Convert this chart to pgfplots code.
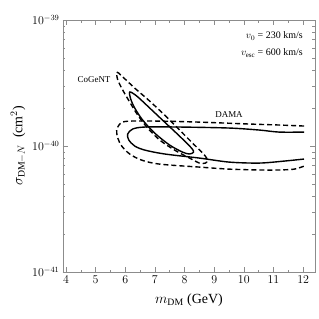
\documentclass[border=0pt]{standalone}
\usepackage{pgfplots}
\pgfplotsset{compat=1.18}
\usepackage{fontspec}
\setmainfont{Liberation Serif}
\begin{document}
\begin{tikzpicture}
\begin{axis}[
  scale only axis, width=252bp, height=252bp,
  xmin=3.9, xmax=12.4, ymin=1e-41, ymax=1e-39, ymode=log,
  xtick={4,5,6,7,8,9,10,11,12}, minor x tick num=1,
  ytick={1e-41,1e-40,1e-39},
  tick align=inside,
  axis line style={black!45, line width=0.6pt},
  every tick/.style={black!45, line width=0.5pt},
  major tick length=5bp, minor tick length=2.5bp,
  xticklabel style={font=\fontsize{12}{14}\selectfont},
  yticklabel style={font=\fontsize{12}{14}\selectfont},
  xlabel={$m_{\mathrm{DM}}$\ (GeV)},
  ylabel={$\sigma_{\mathrm{DM-}N}$\ \ (cm$^{2}$)},
  label style={font=\fontsize{14}{16}\selectfont},
  xlabel style={yshift=-4bp},
  clip=true,
]
% CoGeNT outer (dashed)
\addplot[black, line width=1.4pt, dash pattern=on 5bp off 3bp, smooth, tension=0.5] coordinates {
(7.328,1.762e-40) (7.832,1.340e-40) (8.336,1.019e-40) (8.672,0.849e-40) (8.773,0.774e-40)
(8.706,0.733e-40) (8.504,0.733e-40) (8.168,0.803e-40) (7.664,0.929e-40) (7.160,1.117e-40)
(6.756,1.390e-40) (6.420,1.762e-40) (6.151,2.234e-40) (5.916,2.780e-40) (5.748,3.342e-40)
(5.714,3.864e-40) (5.882,3.597e-40) (6.319,2.884e-40) (6.824,2.275e-40) (7.328,1.762e-40)
};
% CoGeNT inner (solid)
\addplot[black, line width=1.4pt, smooth, tension=0.5] coordinates {
(7.328,1.549e-40) (7.832,1.199e-40) (8.235,0.964e-40) (8.303,0.895e-40) (8.168,0.865e-40)
(7.933,0.895e-40) (7.496,1.019e-40) (6.992,1.268e-40) (6.588,1.607e-40) (6.319,2.004e-40)
(6.185,2.360e-40) (6.151,2.685e-40) (6.387,2.495e-40) (6.824,2.004e-40) (7.328,1.549e-40)
};
% DAMA outer (dashed)
\addplot[black, line width=1.4pt, dash pattern=on 5bp off 3bp, smooth, tension=0.5] coordinates {
(12.03,1.442e-40) (11.19,1.469e-40) (10.18,1.496e-40) (8.50,1.549e-40) (7.16,1.578e-40)
(6.15,1.578e-40) (5.85,1.524e-40) (5.71,1.340e-40) (5.75,1.156e-40) (5.88,1.000e-40)
(6.15,0.865e-40) (6.55,0.774e-40) (7.16,0.719e-40) (8.50,0.681e-40) (9.51,0.656e-40)
(10.52,0.646e-40) (11.19,0.646e-40) (11.70,0.656e-40) (12.03,0.693e-40)
};
% DAMA inner (solid)
\addplot[black, line width=1.4pt, smooth, tension=0.5] coordinates {
(12.03,1.291e-40) (11.19,1.291e-40) (10.52,1.340e-40) (9.51,1.390e-40) (7.83,1.416e-40)
(6.66,1.416e-40) (6.25,1.365e-40) (6.08,1.245e-40) (6.12,1.117e-40) (6.32,1.000e-40)
(6.66,0.929e-40) (7.33,0.865e-40) (8.50,0.803e-40) (9.51,0.746e-40) (10.52,0.733e-40)
(11.36,0.760e-40) (12.03,0.789e-40)
};
\node[anchor=east, font=\fontsize{9}{11}\selectfont] at (axis cs:5.62,3.4e-40) {CoGeNT};
\node[font=\fontsize{9}{11}\selectfont] at (axis cs:9.5,1.78e-40) {DAMA};
\node[anchor=east, font=\fontsize{10}{12}\selectfont] at (rel axis cs:0.965,0.937) {$v_0$ = 230 km/s};
\node[anchor=east, font=\fontsize{10}{12}\selectfont] at (rel axis cs:0.965,0.869) {$v_{\mathrm{esc}}$ = 600 km/s};
\coordinate (SW) at (rel axis cs:0,0);
\coordinate (NE) at (rel axis cs:1,1);
\end{axis}
\path ([xshift=-63bp,yshift=-47bp]SW) rectangle ([xshift=4bp,yshift=20bp]NE);
\end{tikzpicture}
\end{document}
